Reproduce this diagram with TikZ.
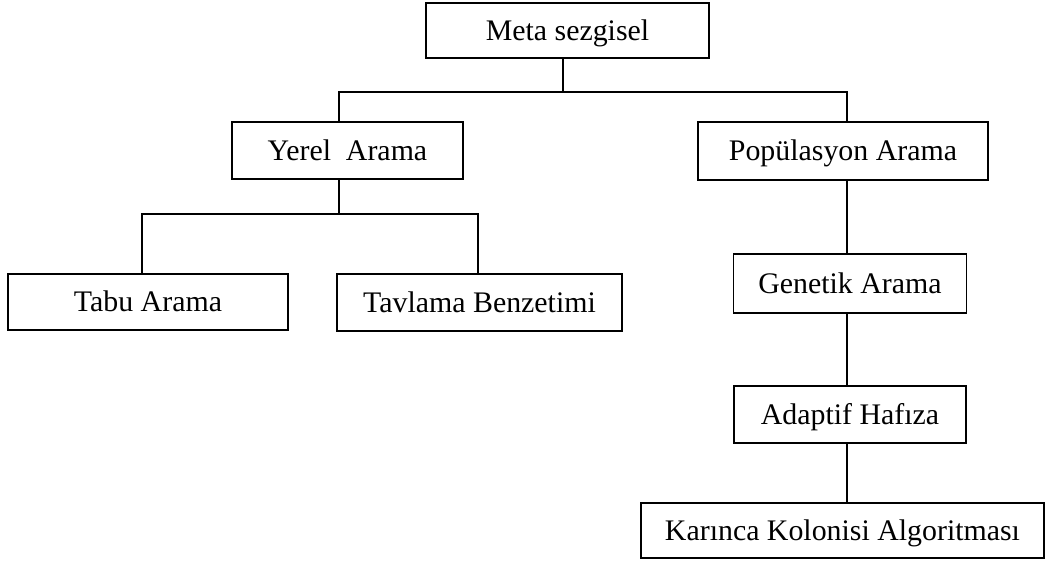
\documentclass[tikz,border=0pt]{standalone}
\usepackage{fontspec}
\setmainfont{Liberation Serif}
\begin{document}
\begin{tikzpicture}[x=0.75pt,y=-0.75pt,
  box/.style 2 args={draw, line width=1.1pt, inner sep=0pt,
    minimum width=#1, minimum height=#2,
    text height=17pt, text depth=2.5pt,
    font=\fontsize{22.4}{26}\selectfont},
  link/.style={line width=1.1pt}]
\useasboundingbox (0,0) rectangle (1050,563);

% boxes
\node[box={212.25pt}{41.25pt}] (meta)    at (567.5,30.5) {Meta sezgisel};
\node[box={173.25pt}{42.75pt}] (yerel)   at (347.5,150.5) {Yerel\ \ Arama};
\node[box={217.5pt}{43.5pt}]   (pop)     at (843,151) {Popülasyon Arama};
\node[box={210pt}{42pt}]       (tabu)    at (148,302) {Tabu Arama};
\node[box={213.75pt}{42.75pt}] (tavlama) at (479.5,302.5) {Tavlama Benzetimi};
\node[box={174.75pt}{44.25pt}] (genetik) at (850,283.5) {Genetik Arama};
\node[box={174pt}{42.75pt}]    (adaptif) at (850,414.5) {Adaptif Hafıza};
\node[box={302.25pt}{41.25pt}] (karinca) at (842.5,530.5) {Karınca Kolonisi Algoritması};

% junction points of the tree
\coordinate (jm) at (563,92);
\coordinate (jl) at (339,92);
\coordinate (jr) at (847,92);
\coordinate (jy) at (339,214);
\coordinate (jt) at (142,214);
\coordinate (jv) at (478,214);

% connectors
\draw[link] (meta.south -| jm) -- (jm);
\draw[link] (yerel.north -| jl) -- (jl) -- (jr) -- (pop.north -| jr);
\draw[link] (yerel.south -| jy) -- (jy);
\draw[link] (tabu.north -| jt) -- (jt) -- (jv) -- (tavlama.north -| jv);
\draw[link] (pop.south -| jr) -- (genetik.north -| jr);
\draw[link] (genetik.south -| jr) -- (adaptif.north -| jr);
\draw[link] (adaptif.south -| jr) -- (karinca.north -| jr);
\end{tikzpicture}
\end{document}
